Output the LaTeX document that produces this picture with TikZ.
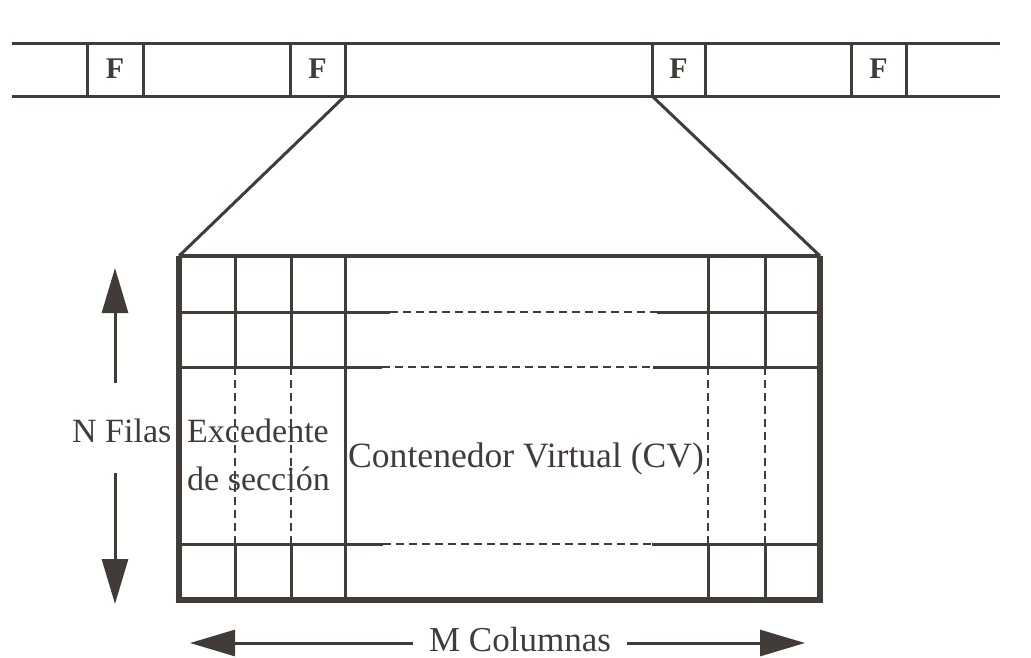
\documentclass[tikz,border=0pt]{standalone}
\usepackage{fontspec}
\setmainfont{Liberation Serif}
\usetikzlibrary{arrows.meta}
\definecolor{ink}{RGB}{66,60,56}
\begin{document}
\begin{tikzpicture}[x=1pt,y=-1pt,
  gridline/.style={draw=ink,line width=3pt},
  frameline/.style={draw=ink,line width=5.5pt,line join=miter},
  dashline/.style={draw=ink,line width=2.4pt,dash pattern=on 8pt off 5pt},
  lbl/.style={text=ink,font=\fontsize{34}{40}\selectfont,inner sep=0pt,anchor=base west},
  flbl/.style={text=ink,font=\fontsize{30}{32}\selectfont\bfseries,inner sep=0pt},
  bigarrow/.style={draw=ink,line width=3pt,-{Triangle[length=45pt,width=26pt]}}
]
\useasboundingbox (0,0) rectangle (1031,657);
% --- top strip ---
\coordinate (sTL) at (12,43);  \coordinate (sTR) at (1000,43);
\coordinate (sBL) at (12,96);  \coordinate (sBR) at (1000,96);
\draw[gridline] (sTL) -- (sTR);
\draw[gridline] (sBL) -- (sBR);
\foreach \a/\b/\n in {87/143/1,290/345/2,652/705/3,851/906/4}{
  \draw[gridline] (\a,43) -- (\a,96) (\b,43) -- (\b,96);
  \node[flbl] (f\n) at ({(\a+\b)/2},69) {F};
}
% --- frame corners ---
\coordinate (fTL) at (179,256); \coordinate (fTR) at (820,256);
\coordinate (fBL) at (179,600); \coordinate (fBR) at (820,600);
\coordinate (zL) at (345,96); \coordinate (zR) at (652,96);
\draw[gridline] (zL) -- (fTL);
\draw[gridline] (zR) -- (fTR);
% --- vertical grid lines ---
\foreach \x in {235,291,708,765}{
  \draw[gridline] (\x,256) -- (\x,367);
  \draw[dashline] (\x,367) -- (\x,544);
  \draw[gridline] (\x,544) -- (\x,600);
}
\draw[gridline] (345,256) -- (345,600);
% --- horizontal grid lines ---
\draw[gridline] (179,312) -- (390,312);
\draw[dashline] (390,312) -- (657,312);
\draw[gridline] (657,312) -- (820,312);
\draw[gridline] (179,367) -- (382,367);
\draw[dashline] (382,367) -- (653,367);
\draw[gridline] (653,367) -- (820,367);
\draw[gridline] (179,544) -- (383,544);
\draw[dashline] (383,544) -- (652,544);
\draw[gridline] (652,544) -- (820,544);
% --- frame ---
\draw[draw=ink,line width=4pt] (fTL) -- (fTR);
\draw[frameline] (fTL) -- (fBL) -- (fBR) -- (fTR);
% --- labels ---
\node[lbl] (nfilas) at (72,442) {N Filas};
\node[lbl] (exc1) at (187,442) {Excedente};
\node[lbl] (exc2) at (187,490) {de sección};
\node[lbl,font=\fontsize{35.6}{40}\selectfont] (cv) at (348,467) {Contenedor Virtual (CV)};
\node[lbl,anchor=base,font=\fontsize{35}{40}\selectfont] (mcol) at (520,651) {M Columnas};
% --- arrows ---
\coordinate (nUp0) at (115,383); \coordinate (nUp1) at (115,268);
\coordinate (nDn0) at (115,473); \coordinate (nDn1) at (115,604);
\draw[bigarrow] (nUp0) -- (nUp1);
\draw[bigarrow] (nDn0) -- (nDn1);
\coordinate (mL0) at (413,643); \coordinate (mL1) at (190,643);
\coordinate (mR0) at (627,643); \coordinate (mR1) at (805,643);
\draw[bigarrow] (mL0) -- (mL1);
\draw[bigarrow] (mR0) -- (mR1);
\end{tikzpicture}
\end{document}
